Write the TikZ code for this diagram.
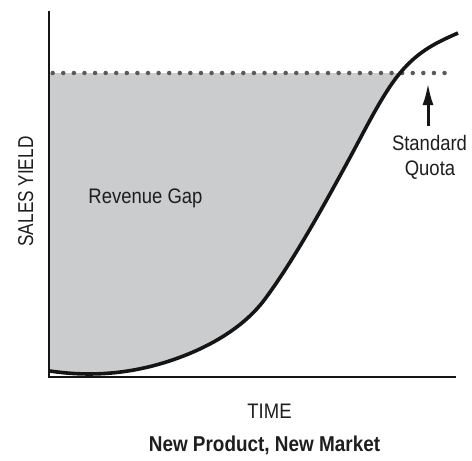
\documentclass[tikz,border=0pt]{standalone}
\usepackage{fontspec}
\usetikzlibrary{arrows.meta}
\newfontfamily\lblfont[FakeStretch=0.88]{Liberation Sans}
\newfontfamily\axfont[FakeStretch=0.8]{Liberation Sans}
\definecolor{gapfill}{HTML}{CBCCCE}
\definecolor{dotgray}{HTML}{5A5A5A}
\definecolor{ink}{HTML}{151515}
\definecolor{txt}{HTML}{1E1E1E}
\tikzset{
  axisline/.style={draw=ink, line width=2.3pt, line cap=rect},
  curveline/.style={draw=ink, line width=3.6pt},
  dotline/.style={draw=dotgray, line width=4.5pt, line cap=round, dash pattern=on 0pt off 10.59pt},
  lbl/.style={text=txt, inner sep=0pt, font=\lblfont\fontsize{21}{25}\selectfont},
  quotaarrow/.style={draw=ink, line width=3pt, -{Latex[length=22pt,width=11pt]}},
}
\newcommand{\salespath}{(50,371) .. controls (87.7,376.7) and (125.3,374.3) .. (163,363)
  .. controls (197,352.8) and (240,332.75) .. (265,299)
  .. controls (292.3,262.1) and (319.7,213) .. (347,163)
  .. controls (364.7,130.6) and (382.3,94.2) .. (400,73)
  .. controls (419.3,49.8) and (438.7,41.7) .. (458,33)}
\begin{document}
\begin{tikzpicture}[x=1pt,y=-1pt]
\useasboundingbox (0,0) rectangle (472,461);
\fill[white] (0,0) rectangle (472,461);
% gap fill
\begin{scope}
\clip (49,73) rectangle (472,380);
\fill[gapfill] \salespath -- (458,0) -- (49,0) -- cycle;
\end{scope}
% dotted quota line
\coordinate (dl) at (52.7,73);
\coordinate (dr) at (455,73);
\draw[dotline] (dl) -- (dr);
% axes
\coordinate (ytop) at (49,12);
\coordinate (orig) at (49,377);
\coordinate (xend) at (455,377);
\draw[axisline] (ytop) -- (orig) -- (xend);
% sales curve
\draw[curveline] \salespath;
% arrow
\coordinate (arrbot) at (428,126);
\coordinate (arrtip) at (428,83);
\draw[quotaarrow] (arrbot) -- (arrtip);
% labels
\node[lbl, anchor=base] (gap) at (145.5,203.3) {Revenue Gap};
\node[lbl, anchor=base] (std) at (429.5,150) {Standard};
\node[lbl, anchor=base] (quota) at (430,175) {Quota};
\node[lbl, anchor=base] (time) at (269.5,418) {TIME};
\node[lbl, anchor=base, rotate=90, font=\axfont\fontsize{21.5}{25}\selectfont] (yl) at (33,191.5) {SALES YIELD};
\node[lbl, anchor=base, font=\lblfont\bfseries\fontsize{21.5}{25}\selectfont] (title) at (264.5,451.7) {New Product, New Market};
\end{tikzpicture}
\end{document}
